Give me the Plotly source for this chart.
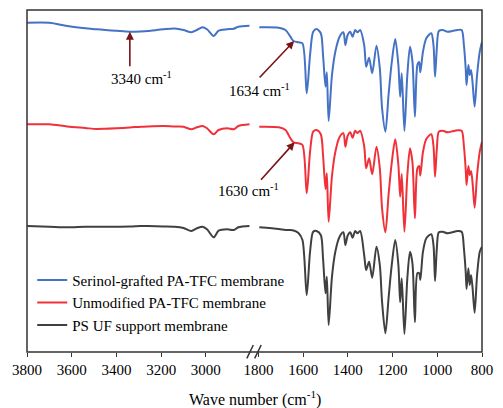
import plotly.graph_objects as go

# ---------------- data (transmittance, arbitrary units) ----------------
# high-wavenumber segment (3800 - 2800 cm-1)
wn_high = [3800, 3700, 3620, 3540, 3490, 3450, 3400, 3340, 3290, 3260, 3190, 3140,
           3100, 3065, 3040, 3015, 2995, 2965, 2943, 2905, 2875, 2855, 2805]
serinol_high = [129.3, 129.3, 126, 123.7, 122.8, 122, 121.2, 120.3, 120.6, 121, 122.7, 123.5,
                122, 119.7, 122, 124.7, 122.7, 116, 121.3, 122.7, 123.3, 125.3, 126.3]
unmod_high = [127.7, 127.7, 125.5, 124, 123, 123.2, 123.7, 124.5, 125.3, 125.6, 126, 125.5,
              125.3, 122.7, 124.7, 126, 123.7, 117.7, 122, 123.7, 122.7, 126, 127.7]
ps_high = [126, 125.3, 124.7, 125.3, 125.3, 125.3, 125.3, 125.5, 126, 126, 125.6, 125.3,
           124, 121, 123.7, 125.3, 122.7, 114.7, 121.3, 122.7, 122, 124.7, 126]

# fingerprint segment (1800 - 800 cm-1)
wn_low = [1796, 1709, 1679, 1657, 1643, 1621, 1603,
          1584, 1569, 1555, 1540, 1521, 1511, 1500, 1494, 1486,
          1471, 1456, 1437, 1420, 1411, 1401, 1389, 1379, 1367, 1357, 1345,
          1327, 1318, 1305, 1291, 1272, 1257, 1247, 1232,
          1218, 1204, 1188, 1174, 1166, 1159, 1147,
          1134, 1122, 1111, 1100, 1089, 1081, 1076,
          1064, 1049, 1027, 1017, 1010, 1002, 993,
          976, 954, 932, 910, 891,
          881, 873, 869, 861, 855, 849, 842, 833, 822, 810, 800]
serinol_low = [124.7, 124.3, 122, 115.3, 111, 109.7, 108.7,
               58.7, 97, 120.3, 123, 118.7, 97, 65.3, 79.7, 31,
               77, 100.3, 115.3, 119.7, 107, 117, 120.3, 115.3, 122, 119.7, 122,
               107, 85.3, 94.3, 78.7, 106.3, 83.7, 44, 20.3,
               57, 89, 113, 87, 55.3, 78.7, 21,
               77, 105.3, 90.3, 35.3, 87, 90, 79.7,
               100.3, 113.7, 118.7, 107, 75.3, 103.7, 121,
               122, 120.3, 121, 122, 122,
               107, 83.7, 67, 87, 77, 82, 68.7, 45.3, 77, 100.3, 110.3]
unmod_low = [125.3, 124.7, 122, 113.7, 109.7, 108.7, 107,
             58.7, 100.3, 120.3, 122, 117.7, 97, 63, 78.7, 30.3,
             76, 100, 115, 118.7, 105.3, 116, 119.7, 114.3, 121.3, 119, 121.3,
             106, 83.7, 93.7, 77.7, 105.3, 83.7, 43.7, 19.7,
             57, 88.7, 112.7, 87, 55.3, 78, 20.3,
             76.5, 103.7, 89.5, 33.7, 83.7, 86, 76.3,
             100, 113, 117.7, 106, 75.3, 103, 120.3,
             121.3, 119.7, 120.7, 121.7, 121.3,
             106, 83, 67, 86, 77, 81, 68.7, 44.3, 77, 100.3, 110.3]
ps_low = [124.7, 123, 122, 122, 121.5, 119, 112,
          57, 100.3, 120.3, 121, 117, 93.7, 58.7, 75.3, 27,
          75.3, 100.3, 115.3, 119.7, 107, 116.3, 119.7, 114.3, 121, 118.7, 121,
          97, 82, 90.3, 74.3, 105.3, 87, 50.3, 18.7,
          53.7, 86.3, 112, 87, 49.7, 73.7, 18,
          73.7, 100.3, 88.7, 29.7, 78.7, 78.7, 72,
          100.3, 113.7, 117.7, 107, 71, 103.7, 119.7,
          120.3, 118.7, 119.7, 121, 120.3,
          103.7, 80.3, 63, 83.7, 67, 77, 63.7, 39.3, 77, 100.3, 105.3]

series_names = ["Serinol-grafted PA-TFC membrane", "Unmodified PA-TFC membrane",
                "PS UF support membrane"]
ticks_high = [3800, 3600, 3400, 3200, 3000]
ticks_low = [1800, 1600, 1400, 1200, 1000, 800]

# ---------------- styling ----------------
colors = ["#4472C4", "#F0313A", "#404040"]
offsets = [200, 100, 0]
FONT = "'Times New Roman', 'Liberation Serif', 'DejaVu Serif', serif"
ARROW = "#7B1416"

fig = go.Figure()
highs = [serinol_high, unmod_high, ps_high]
lows = [serinol_low, unmod_low, ps_low]
for name, col, off, hi, lo in zip(series_names, colors, offsets, highs, lows):
    fig.add_trace(go.Scatter(x=wn_high, y=[v + off for v in hi], mode="lines",
                             line=dict(color=col, width=2, shape="spline", smoothing=0.8),
                             xaxis="x", yaxis="y", showlegend=False, legendgroup=name,
                             name=name))
    fig.add_trace(go.Scatter(x=wn_low, y=[v + off for v in lo], mode="lines",
                             line=dict(color=col, width=2, shape="spline", smoothing=0.8),
                             xaxis="x2", yaxis="y", showlegend=True, legendgroup=name,
                             name=name))

axis_common = dict(showgrid=False, zeroline=False, showline=False, ticks="outside",
                   ticklen=4, tickwidth=1.3, tickcolor="#333333",
                   tickfont=dict(family=FONT, size=15, color="black"), anchor="y")

fig.update_layout(
    width=503, height=408,
    margin=dict(l=27, r=13, t=10, b=56),
    paper_bgcolor="white", plot_bgcolor="white",
    font=dict(family=FONT, size=15, color="black"),
    xaxis=dict(domain=[0, 0.4963], range=[3800, 2790], tickvals=ticks_high, **axis_common),
    xaxis2=dict(domain=[0.5086, 1], range=[1800, 800], tickvals=ticks_low, **axis_common),
    yaxis=dict(range=[0, 342], visible=False, domain=[0, 1]),
    legend=dict(x=0.0115, y=0.258, xanchor="left", yanchor="top",
                bgcolor="rgba(0,0,0,0)", font=dict(family=FONT, size=15, color="black"),
                traceorder="normal", tracegroupgap=0),
    showlegend=True,
)

# frame and axis break
fig.add_shape(type="rect", xref="paper", yref="paper", x0=0, y0=0, x1=1, y1=1,
              line=dict(color="#333333", width=1.5))
for x0p, x1p in [(250.7, 257.3), (258.7, 265.3)]:
    fig.add_shape(type="line", xref="paper", yref="paper",
                  x0=(x0p - 27) / 463, y0=(352 - 358.3) / 342,
                  x1=(x1p - 27) / 463, y1=(352 - 345) / 342,
                  line=dict(color="#333333", width=1.5))

# annotations (arrows)
arrow_common = dict(showarrow=True, arrowhead=2, arrowsize=1, arrowwidth=1.6,
                    arrowcolor=ARROW, text="", axref="pixel", ayref="pixel")
fig.add_annotation(x=3340, y=serinol_high[7] + offsets[0], xref="x", yref="y",
                   ax=0, ay=36, **arrow_common)
fig.add_annotation(x=1640, y=serinol_low[4] + offsets[0], xref="x2", yref="y",
                   ax=-36, ay=38, **arrow_common)
fig.add_annotation(x=1638, y=unmod_low[4] + offsets[1], xref="x2", yref="y",
                   ax=-35, ay=39, **arrow_common)

label_font = dict(family=FONT, size=15, color="black")
for txt, px, py in [("3340 cm<sup>-1</sup>", 110, 78), ("1634 cm<sup>-1</sup>", 231, 90),
                    ("1630 cm<sup>-1</sup>", 219, 190)]:
    fig.add_annotation(x=(px - 27) / 463, y=(352 - py) / 342, xref="paper", yref="paper",
                       text=txt, showarrow=False, xanchor="left", yanchor="middle",
                       font=label_font)

fig.add_annotation(x=0.5, y=(352 - 398) / 342, xref="paper", yref="paper",
                   text="Wave number (cm<sup>-1</sup>)", showarrow=False,
                   xanchor="center", yanchor="middle",
                   font=dict(family=FONT, size=16, color="black"))

fig.write_html("out.html")
